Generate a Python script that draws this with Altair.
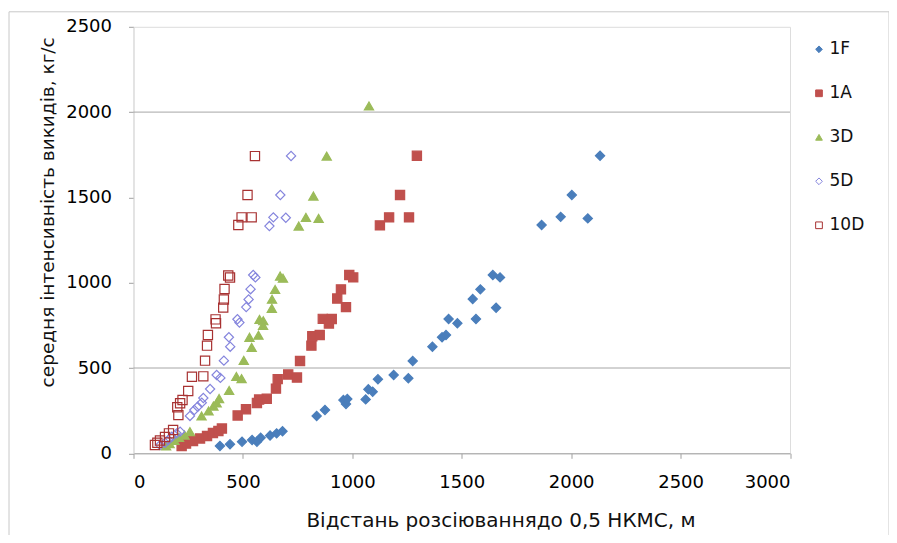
import altair as alt
import pandas as pd

series_names = ["1F", "1A", "3D", "5D", "10D"]

f1_x = [395, 441, 496, 542, 564, 581, 624, 654, 681, 837, 875, 959, 971, 977, 1061, 1073, 1093, 1117, 1189,
        1256, 1276, 1366, 1410, 1428, 1440, 1480, 1550, 1565, 1585, 1642, 1657, 1675, 1865, 1952, 2003, 2076, 2132]
f1_y = [43, 53, 68, 78, 68, 91, 104, 117, 129, 219, 254, 312, 289, 318, 316, 375, 361, 434, 459,
        440, 541, 625, 680, 693, 787, 762, 904, 787, 961, 1045, 853, 1031, 1338, 1386, 1514, 1377, 1744]

a1_x = [220, 240, 272, 304, 336, 363, 388, 404, 476, 514, 564, 574, 609, 651, 659, 707, 747, 761, 813, 817,
        851, 865, 906, 893, 931, 948, 971, 986, 1004, 1126, 1168, 1259, 1218, 1295]
a1_y = [43, 57, 72, 87, 101, 119, 131, 145, 222, 258, 295, 315, 320, 379, 435, 462, 444, 541, 631, 686,
        693, 788, 787, 761, 907, 961, 857, 1045, 1031, 1336, 1383, 1383, 1514, 1744]

d3_x = [149, 165, 187, 208, 233, 258, 311, 343, 365, 380, 391, 437, 470, 494, 504, 540, 530, 571, 576, 593,
        592, 632, 633, 647, 670, 683, 755, 788, 822, 846, 883, 1076]
d3_y = [43, 57, 75, 93, 107, 127, 219, 248, 277, 295, 321, 368, 450, 438, 545, 621, 680, 692, 785, 777,
        749, 850, 903, 960, 1039, 1026, 1332, 1383, 1508, 1377, 1742, 2036]

d5_x = [121, 144, 159, 175, 197, 213, 258, 278, 293, 312, 319, 350, 380, 397, 413, 442, 436, 475, 484, 515,
        526, 535, 547, 557, 621, 639, 696, 671, 720]
d5_y = [48, 62, 78, 97, 117, 127, 219, 254, 273, 297, 324, 377, 459, 442, 543, 625, 680, 786, 766, 857,
        902, 962, 1045, 1031, 1332, 1383, 1381, 1514, 1743]

d10_x = [98, 109, 121, 144, 162, 181, 205, 200, 213, 224, 250, 267, 319, 327, 336, 340, 375, 377, 410, 413,
         416, 433, 441, 479, 494, 540, 521, 555]
d10_y = [49, 62, 75, 96, 117, 137, 224, 270, 293, 312, 365, 449, 451, 543, 631, 693, 785, 762, 854, 902,
         963, 1042, 1030, 1338, 1383, 1383, 1514, 1742]

x_ticks = [0, 500, 1000, 1500, 2000, 2500, 3000]
y_ticks = [0, 500, 1000, 1500, 2000, 2500]
grid_y = [500, 2000]

shapes = ["diamond", "square", "triangle-up", "diamond", "square"]
fills = ["#4a7ebb", "#c0504d", "#9bbb59", "transparent", "transparent"]
strokes = ["#4a7ebb", "#c0504d", "#9bbb59", "#8585dd", "#a83232"]

rows = []
for name, xs, ys in zip(series_names, [f1_x, a1_x, d3_x, d5_x, d10_x], [f1_y, a1_y, d3_y, d5_y, d10_y]):
    for xv, yv in zip(xs, ys):
        rows.append({"series": name, "x": xv, "y": yv})
df = pd.DataFrame(rows)
df["order"] = df["series"].map({n: i for i, n in enumerate(series_names)})

FONT = "DejaVu Sans"

x_scale = alt.Scale(domain=[0, 3000], nice=False, zero=True)
y_scale = alt.Scale(domain=[0, 2500], nice=False, zero=True)

x_axis = alt.Axis(values=x_ticks, format="d", grid=False, domainColor="#a0a0a0", tickColor="#a0a0a0",
                  tickSize=5, labelFontSize=18, labelColor="#000000", labelPadding=15,
                  labelFont=FONT, title="Відстань розсіюваннядо 0,5 НКМС, м",
                  titleFont=FONT, titleFontSize=20, titleFontWeight="normal", titleColor="#111111",
                  titleX=367, titleY=67, titleBaseline="middle", titleAlign="center")
y_axis = alt.Axis(values=y_ticks, format="d", grid=False, domainColor="#d9d9d9", tickColor="#a0a0a0",
                  tickSize=5, labelFontSize=18, labelColor="#000000", labelPadding=17,
                  labelFont=FONT, title="середня інтенсивність викидів, кг/с",
                  titleFont=FONT, titleFontSize=18.5, titleFontWeight="normal", titleColor="#111111",
                  titleX=-86, titleY=185, titleBaseline="middle", titleAlign="center", titleAngle=270)

border = alt.Chart(pd.DataFrame({"k": [0]})).mark_rect(
    fill="transparent", stroke="#c8c8c8", strokeWidth=1
).encode(x=alt.value(-124.5), x2=alt.value(755.5), y=alt.value(-15), y2=alt.value(509))

grid = alt.Chart(pd.DataFrame({"g": grid_y})).mark_rule(color="#a6a6a6", strokeWidth=1).encode(
    y=alt.Y("g:Q", scale=y_scale, axis=y_axis)
)

legend = alt.Legend(title=None, orient="none", legendX=677, legendY=14, labelFont=FONT,
                    labelFontSize=17, labelColor="#111111", symbolSize=45, rowPadding=26,
                    symbolStrokeWidth=1, labelOffset=2, padding=0)

points = alt.Chart(df).mark_point(size=85, strokeWidth=1.2, opacity=1, fillOpacity=1).encode(
    x=alt.X("x:Q", scale=x_scale, axis=x_axis),
    y=alt.Y("y:Q", scale=y_scale, axis=y_axis),
    shape=alt.Shape("series:N", scale=alt.Scale(domain=series_names, range=shapes), legend=legend),
    fill=alt.Fill("series:N", scale=alt.Scale(domain=series_names, range=fills), legend=legend),
    stroke=alt.Stroke("series:N", scale=alt.Scale(domain=series_names, range=strokes), legend=legend),
    order=alt.Order("order:Q"),
)

chart = alt.layer(border, grid, points).properties(
    width=656.5, height=426.5, autosize="none",
    padding={"left": 125.5, "top": 18.8, "right": 99, "bottom": 81.7},
    background="white",
).configure_view(strokeWidth=0).configure(font=FONT)

chart.save("out.html", embed_options={"renderer": "svg", "actions": False})
